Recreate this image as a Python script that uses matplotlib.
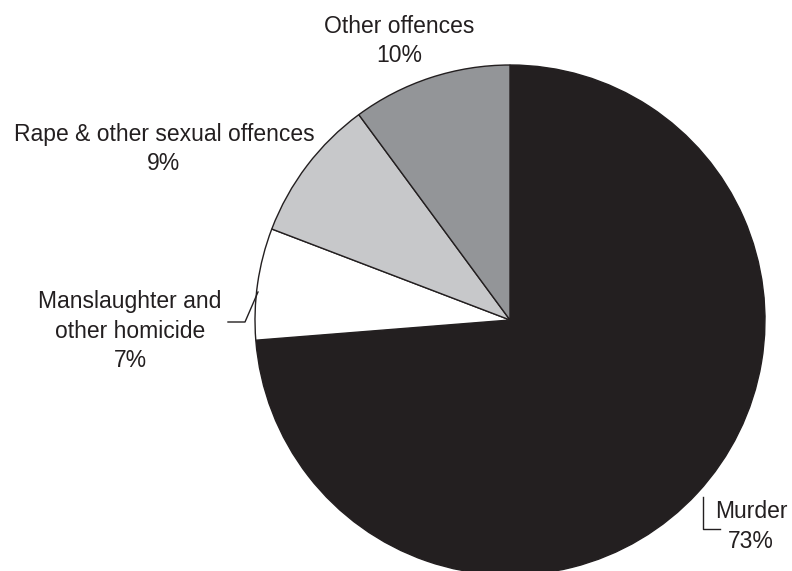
import matplotlib.pyplot as plt

# Share of offences (%)
categories = ['Murder', 'Manslaughter and\nother homicide',
              'Rape & other sexual offences', 'Other offences']
shares = [73, 7, 9, 10]
colors = ['#231f20', '#ffffff', '#c7c8ca', '#939598']

W, H = 792, 571
ink = '#231f20'

fig = plt.figure(figsize=(W / 100, H / 100), dpi=100)
ax = fig.add_axes([0, 0, 1, 1])
ax.set_xlim(0, W)
ax.set_ylim(0, H)
ax.set_aspect('equal')
ax.axis('off')

# pie drawn in pixel units, y measured from the bottom
cx, cy, r = 510, H - 320, 255
ax.pie(shares, colors=colors, startangle=90, counterclock=False,
       center=(cx, cy), radius=r, frame=True,
       wedgeprops=dict(edgecolor=ink, linewidth=1))
ax.set_xlim(0, W)
ax.set_ylim(0, H)
ax.axis('off')

# label placement: (centre x, first baseline y from top)
label_pos = {
    'Murder': (751, 518),
    'Manslaughter and\nother homicide': (130, 308),
    'Rape & other sexual offences': (164, 141),
    'Other offences': (399, 33),
}
step = 29.5
for name, val in zip(categories, shares):
    x, y = label_pos[name]
    lines = name.split('\n') + [f'{val}%']
    for i, line in enumerate(lines):
        ax.text(x, H - (y + i * step), line, ha='center', va='baseline',
                fontsize=16.5, color=ink, family='Liberation Sans')

# leader lines
ax.plot([228, 245, 258], [H - 322, H - 322, H - 292], color=ink, lw=1)
ax.plot([703, 703, 720], [H - 497, H - 529, H - 529], color=ink, lw=1)

plt.savefig('out.png', dpi=100)
